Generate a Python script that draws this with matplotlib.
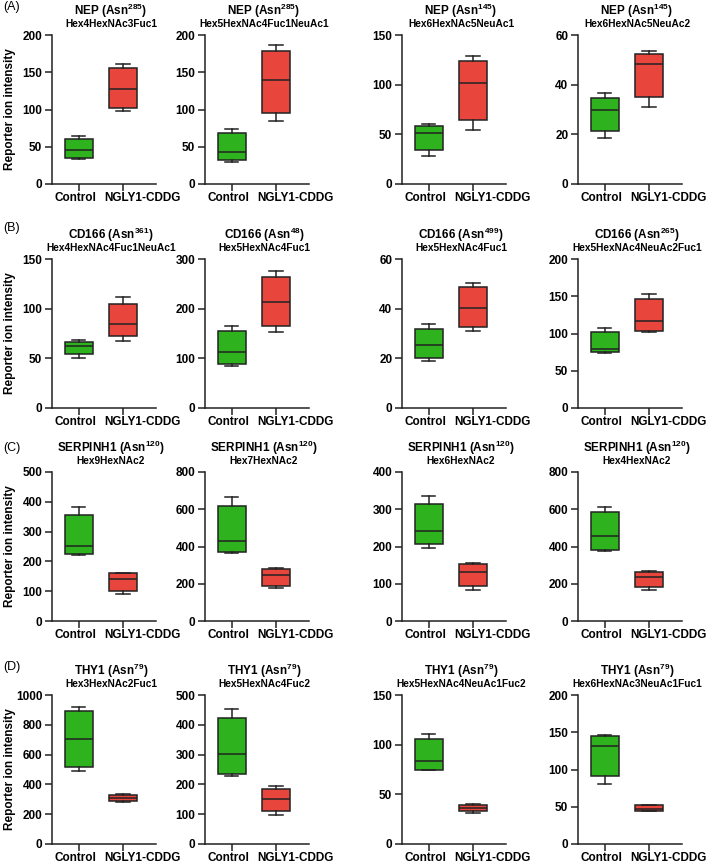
import matplotlib
matplotlib.use("Agg")
from matplotlib import pyplot as plt
from matplotlib.transforms import ScaledTranslation

plt.rcParams['font.family'] = ['Liberation Sans', 'DejaVu Sans']
plt.rcParams['mathtext.fontset'] = 'custom'
plt.rcParams['mathtext.rm'] = 'Liberation Sans'
plt.rcParams['mathtext.bf'] = 'Liberation Sans:bold'

groups = ['Control', 'NGLY1-CDDG']

proteins = ['NEP', 'NEP', 'NEP', 'NEP',
            'CD166', 'CD166', 'CD166', 'CD166',
            'SERPINH1', 'SERPINH1', 'SERPINH1', 'SERPINH1',
            'THY1', 'THY1', 'THY1', 'THY1']
sites = ['285', '285', '145', '145',
         '361', '48', '499', '265',
         '120', '120', '120', '120',
         '79', '79', '79', '79']
glycans = ['Hex4HexNAc3Fuc1', 'Hex5HexNAc4Fuc1NeuAc1', 'Hex6HexNAc5NeuAc1', 'Hex6HexNAc5NeuAc2',
           'Hex4HexNAc4Fuc1NeuAc1', 'Hex5HexNAc4Fuc1', 'Hex5HexNAc4Fuc1', 'Hex5HexNAc4NeuAc2Fuc1',
           'Hex9HexNAc2', 'Hex7HexNAc2', 'Hex6HexNAc2', 'Hex4HexNAc2',
           'Hex3HexNAc2Fuc1', 'Hex5HexNAc4Fuc2', 'Hex5HexNAc4NeuAc1Fuc2', 'Hex6HexNAc3NeuAc1Fuc1']
ymax = [200, 200, 150, 60,
        150, 300, 60, 200,
        500, 800, 400, 800,
        1000, 500, 150, 200]
ystep = [50, 50, 50, 20,
         50, 100, 20, 50,
         100, 200, 100, 200,
         200, 100, 50, 50]

# box stats per panel: (min, q1, median, q3, max)
control = [(34, 35, 45, 60, 64), (30, 32, 43, 68, 74), (28, 34, 51, 58, 60), (18.5, 21.5, 30, 34.8, 36.5),
           (50, 54, 62, 66, 68), (85, 89, 113, 156, 166), (19, 20.3, 25.3, 32, 34), (74, 75, 79, 102, 108),
           (223, 225, 253, 357, 384), (367, 373, 427, 615, 667), (196, 206, 241, 313, 335), (375, 382, 455, 587, 613),
           (493, 516, 706, 893, 917), (227, 236, 302, 424, 452), (74, 75, 84, 106, 111), (80, 91, 131, 145, 146)]
ngly1 = [(98, 102, 127, 156, 161), (85, 95, 139, 178, 186), (54, 64, 102, 124, 129), (31, 35, 48.5, 52.5, 53.5),
         (67, 72, 85, 105, 112), (154, 166, 213, 263, 276), (31, 32.7, 40.3, 48.7, 50.3), (102, 104, 117, 146, 153),
         (90, 100, 142, 160, 160), (177, 190, 247, 280, 285), (84, 93, 131, 153, 156), (168, 182, 238, 265, 270),
         (283, 287, 306, 330, 336), (97, 110, 151, 185, 196), (31, 33, 36.5, 39, 40), (44, 44, 47, 52, 52.5)]

row_letters = ['(A)', '(B)', '(C)', '(D)']

W, H = 709, 864
fig = plt.figure(figsize=(W / 100, H / 100), dpi=100)

# pixel layout of axes
col_left = [52, 205, 402, 578]
ax_w = 104
row_top = [35, 259, 472, 695]
ax_h = 149
letter_y = [7, 228, 448, 667]
label_shift = [-3, 19]  # px shift of x labels from their ticks

green = '#2eb31f'
red = '#e8453d'
edge = '#222222'

def fx(px):
    return px / W

def fy(py):
    return 1 - py / H

for i in range(16):
    r, c = divmod(i, 4)
    left = col_left[c]
    top = row_top[r]
    ax = fig.add_axes([fx(left), fy(top + ax_h), fx(ax_w), ax_h / H])

    stats = []
    for label, s in zip(groups, [control[i], ngly1[i]]):
        stats.append({'label': label, 'whislo': s[0], 'q1': s[1], 'med': s[2],
                      'q3': s[3], 'whishi': s[4], 'fliers': []})
    bp = ax.bxp(stats, positions=[0, 1], widths=0.64, patch_artist=True, showfliers=False,
                boxprops=dict(linewidth=1.1, edgecolor=edge),
                medianprops=dict(color=edge, linewidth=1.1),
                whiskerprops=dict(color=edge, linewidth=1.1),
                capprops=dict(color=edge, linewidth=1.1), capwidths=0.3)
    for patch, col in zip(bp['boxes'], [green, red]):
        patch.set_facecolor(col)

    ax.set_xlim(-0.61, 1.75)
    ax.set_ylim(0, ymax[i])
    ax.set_yticks(range(0, ymax[i] + 1, ystep[i]))
    ax.set_xticks([0, 1])
    ax.set_xticklabels(groups)
    for side in ['top', 'right']:
        ax.spines[side].set_visible(False)
    for side in ['left', 'bottom']:
        ax.spines[side].set_linewidth(1.1)
        ax.spines[side].set_color(edge)
    ax.tick_params(direction='out', length=5, width=1.1, color=edge, labelsize=8.5, pad=2)
    ax.tick_params(axis='x', pad=0.5)
    for lbl in ax.get_xticklabels() + ax.get_yticklabels():
        lbl.set_fontweight('bold')
    for lbl, dx in zip(ax.get_xticklabels(), label_shift):
        lbl.set_transform(lbl.get_transform() + ScaledTranslation(dx / 100, 0, fig.dpi_scale_trans))

    cx = left + ax_w / 2 + 7
    fig.text(fx(cx), fy(top - 24), proteins[i] + r' (Asn$^{\mathbf{' + sites[i] + '}}$)',
             ha='center', va='center', fontsize=8.5, fontweight='bold')
    fig.text(fx(cx), fy(top - 11), glycans[i], ha='center', va='center', fontsize=7.3, fontweight='bold')

    if c == 0:
        fig.text(fx(10), fy(top + ax_h / 2), 'Reporter ion intensity', rotation=90,
                 ha='center', va='center', fontsize=8.5, fontweight='bold')
        fig.text(fx(3), fy(letter_y[r]), row_letters[r], ha='left', va='center', fontsize=9)

plt.savefig('out.png', dpi=100)
